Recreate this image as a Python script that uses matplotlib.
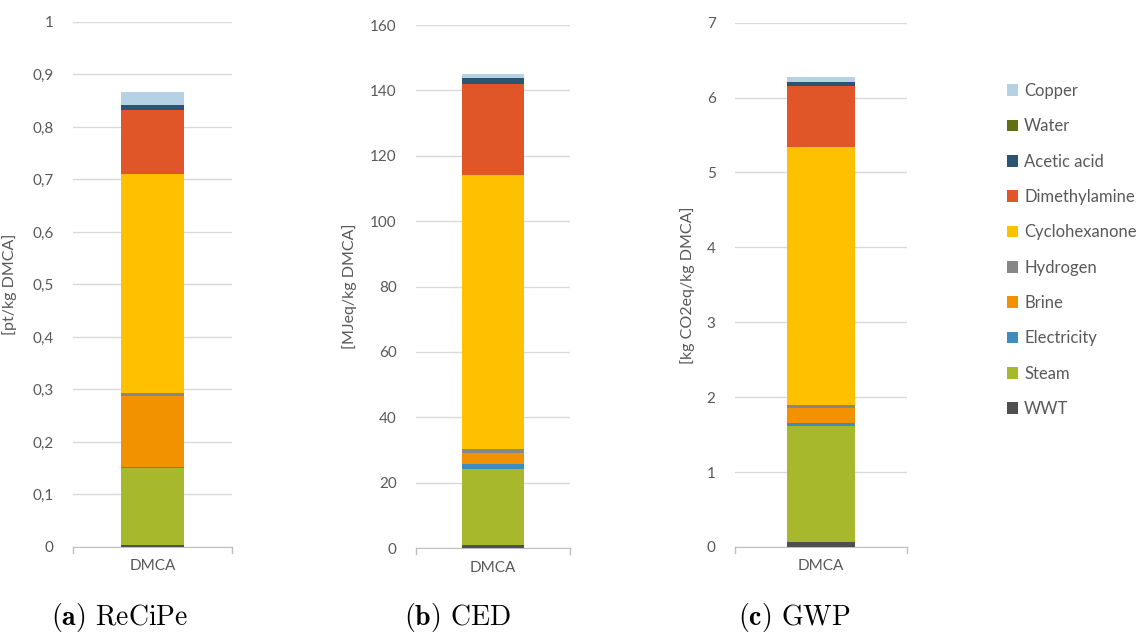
import matplotlib
matplotlib.use("Agg")
import matplotlib.pyplot as plt
from matplotlib.patches import Patch
from matplotlib.ticker import FuncFormatter

# stacking order, bottom to top
components = ["WWT", "Steam", "Electricity", "Brine", "Hydrogen",
              "Cyclohexanone", "Dimethylamine", "Acetic acid", "Water", "Copper"]
colors = ["#4f4f4f", "#a8b82c", "#3e8dbe", "#f39200", "#878787",
          "#ffc000", "#e05628", "#2b5573", "#626f14", "#b4d2e4"]

category = ["DMCA"]

recipe = [0.003, 0.148, 0.002, 0.135, 0.005, 0.417, 0.123, 0.009, 0.0, 0.024]
ced = [0.8, 23.5, 1.3, 3.4, 1.3, 83.7, 27.9, 1.8, 0.0, 1.3]
gwp = [0.07, 1.55, 0.04, 0.20, 0.04, 3.44, 0.81, 0.06, 0.0, 0.06]

TEXT = "#595959"
GRID = "#d9d9d9"
plt.rcParams["font.family"] = ["Lato", "DejaVu Sans"]
plt.rcParams["mathtext.fontset"] = "cm"

fig = plt.figure(figsize=(11.41, 6.35), dpi=100)

panels = [
    # values, axes rect, y max, y step, y label, label x, comma decimals, caption, caption x
    (recipe, [0.064, 0.1386, 0.1393, 0.8268], 1.0, 0.1, "[pt/kg DMCA]", -0.35, True,
     r"$\mathbf{(a)}$ ReCiPe", 0.045),
    (ced, [0.3646, 0.137, 0.135, 0.8236], 160, 20, "[MJeq/kg DMCA]", -0.38, False,
     r"$\mathbf{(b)}$ CED", 0.354),
    (gwp, [0.6442, 0.1386, 0.1507, 0.8257], 7, 1, "[kg CO2eq/kg DMCA]", -0.235, False,
     r"$\mathbf{(c)}$ GWP", 0.647),
]

for values, rect, ymax, step, ylabel, lab_x, comma, caption, cap_x in panels:
    ax = fig.add_axes(rect)
    bottom = 0.0
    for val, col in zip(values, colors):
        ax.bar(category, [val], bottom=bottom, width=0.4, color=col,
               edgecolor="none", zorder=3)
        bottom += val
    ax.set_xlim(-0.5, 0.5)
    ax.set_ylim(0, ymax)
    n = int(round(ymax / step))
    ax.set_yticks([i * step for i in range(n + 1)])
    if comma:
        ax.yaxis.set_major_formatter(FuncFormatter(
            lambda v, p: "0" if abs(v) < 1e-9 else ("1" if abs(v - 1) < 1e-9 else f"{v:.1f}".replace(".", ","))))
    ax.grid(axis="y", color=GRID, lw=1, zorder=0)
    for s in ["top", "right", "left"]:
        ax.spines[s].set_visible(False)
    ax.spines["bottom"].set_color("#bfbfbf")
    ax.tick_params(axis="y", length=0, pad=14, colors=TEXT, labelsize=11)
    ax.tick_params(axis="x", length=0, pad=9, colors=TEXT, labelsize=11)
    # small end marks on the category axis
    for xe in (-0.5, 0.5):
        ax.plot([xe, xe], [0, -0.012], transform=ax.get_xaxis_transform(),
                color="#bfbfbf", lw=1, clip_on=False)
    ax.set_ylabel(ylabel, color=TEXT, fontsize=11.5)
    ax.yaxis.set_label_coords(lab_x, 0.5)
    fig.text(cap_x, 0.027, caption, fontsize=20, family="cmr10", va="center", ha="left")

handles = [Patch(facecolor=c, edgecolor="none") for c in colors][::-1]
labels = components[::-1]
leg = fig.legend(handles, labels, loc="upper left", bbox_to_anchor=(0.869, 0.893),
                 frameon=False, fontsize=12, handlelength=0.7, handleheight=0.7,
                 handletextpad=0.35, labelspacing=1.16)
for t in leg.get_texts():
    t.set_color(TEXT)

fig.savefig("out.png", dpi=100)
